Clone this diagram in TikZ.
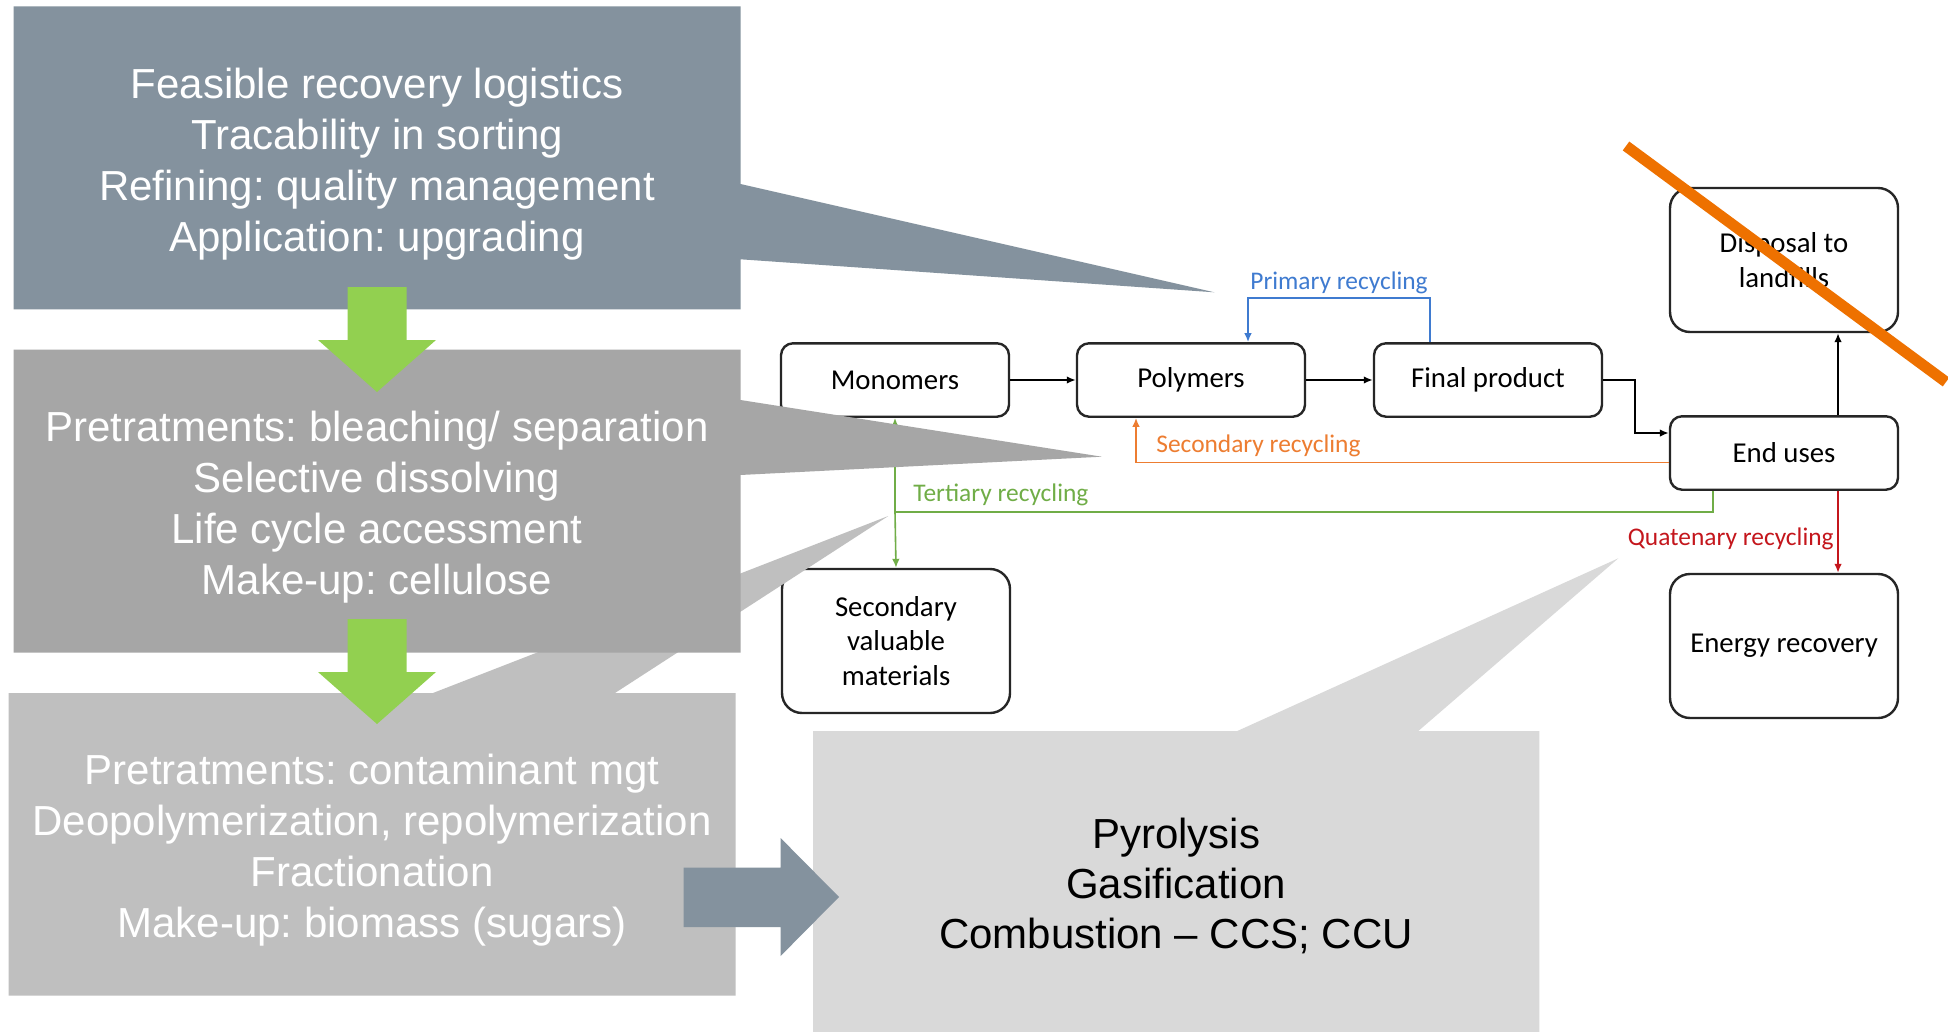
\documentclass[tikz,border=0pt]{standalone}
\usepackage{fontspec}
\setmainfont{Liberation Sans}
\newfontfamily\flowfont{Carlito}
\usetikzlibrary{arrows.meta}
\frenchspacing

\definecolor{slate}{HTML}{84929E}
\definecolor{midgray}{HTML}{A6A6A6}
\definecolor{lightgray}{HTML}{BFBFBF}
\definecolor{palegray}{HTML}{D9D9D9}
\definecolor{arrowgreen}{HTML}{92D050}
\definecolor{strikeorange}{HTML}{EE7100}
\definecolor{flowline}{HTML}{262626}
\definecolor{primblue}{HTML}{3F7BD0}
\definecolor{secorange}{HTML}{ED7D31}
\definecolor{tertgreen}{HTML}{70AD47}
\definecolor{quatred}{HTML}{C4161C}

\begin{document}
\begin{tikzpicture}[x=0.5pt,y=-0.5pt,
  flow/.style={draw=flowline, line width=1.2pt, rounded corners=6pt, fill=white,
    minimum width=114pt, minimum height=36.7pt, inner sep=0pt, align=center,
    text=black, font=\flowfont\fontsize{14.4pt}{17.4pt}\selectfont},
  tallflow/.style={flow, minimum height=72pt, rounded corners=10pt},
  link/.style={draw=black, line width=0.9pt, -{Latex[length=4.5pt,width=3.8pt]}},
  recyc/.style={line width=0.8pt, -{Latex[length=4.5pt,width=3.8pt]}},
  tag/.style={inner sep=0pt, font=\flowfont\fontsize{12.7pt}{15pt}\selectfont},
  boxtext/.style={align=center, inner sep=0pt, text=white,
    font=\fontsize{21pt}{25.5pt}\selectfont},
  strike/.style={draw=strikeorange, line width=5.5pt}
]
% canvas
\fill[white] (0,0) rectangle (1948,1032);
\useasboundingbox (0,0) rectangle (1948,1032);

% ---------- recycling flow chart ----------
\node[flow] (mono)   at (895,380)  {Monomers};
\node[flow] (poly)   at (1191,380) {Polymers};
\node[flow] (final)  at (1488,380) {Final product};
\node[flow] (end)    at (1784,453) {End uses};
\node[tallflow] (disp)   at (1784,260) {Disposal to\\landfills};
\node[tallflow] (energy) at (1784,646) {Energy recovery};
\node[tallflow] (secval) at (896,641)  {Secondary\\valuable\\materials};

\draw[link] (mono.east) -- (poly.west);
\draw[link] (poly.east) -- (final.west);
\draw[link] (final.east) -- (1635,380) |- ([yshift=10pt]end.west);
\draw[link] ([xshift=27pt]end.north) -- ([xshift=27pt]disp.south);

% primary recycling loop
\draw[recyc, draw=primblue] ([xshift=-29pt]final.north) -- ++(0,-44) -| ([xshift=28.5pt]poly.north);
\node[tag, text=primblue, anchor=base] (lprim) at (1339,289) {Primary recycling};

% secondary recycling
\draw[recyc, draw=secorange] ([yshift=-4.65pt]end.west) -| ([xshift=-27.5pt]poly.south);
\node[tag, text=secorange, anchor=base west] (lsec) at (1156,452) {Secondary recycling};

% tertiary recycling
\coordinate (tj) at (895,512);
\draw[line width=0.8pt, draw=tertgreen] ([xshift=-35.5pt]end.south) |- (tj);
\draw[recyc, draw=tertgreen] (tj) -- (mono.south);
\draw[recyc, draw=tertgreen] (tj) -- (secval.north);
\node[tag, text=tertgreen, anchor=base west] (lter) at (913,501) {Tertiary recycling};

% quaternary recycling
\draw[recyc, draw=quatred] ([xshift=27pt]end.south) -- ([xshift=27pt]energy.north);
\node[tag, text=quatred, anchor=base east] (lquat) at (1834,545) {Quatenary recycling};

% ---------- callout boxes ----------
\fill[palegray] (813,731) -- (1237.3,731) -- (1618.3,558.3) -- (1418.3,731)
  -- (1539.3,731) -- (1539.3,1032) -- (813,1032) -- cycle;
\fill[lightgray] (8.7,693) -- (433,693) -- (888.3,516) -- (615,693)
  -- (735.5,693) -- (735.5,995.5) -- (8.7,995.5) -- cycle;
\fill[midgray] (13.6,349.6) -- (740.5,349.6) -- (740.5,400) -- (1101.8,456.7)
  -- (740.5,475) -- (740.5,652.7) -- (13.6,652.7) -- cycle;
\fill[slate] (13.6,6.3) -- (740.5,6.3) -- (740.5,184) -- (1214.3,292.3)
  -- (740.5,259.3) -- (740.5,309.4) -- (13.6,309.4) -- cycle;

% block arrows between the boxes
\fill[arrowgreen] (347.6,287) -- (406.7,287) -- (406.7,340) -- (436,340)
  -- (377,392) -- (318,340) -- (347.6,340) -- cycle;
\fill[arrowgreen] (347.6,619) -- (406.7,619) -- (406.7,672) -- (436,672)
  -- (377,724) -- (318,672) -- (347.6,672) -- cycle;
\fill[slate] (683.6,867.7) -- (780.6,867.7) -- (780.6,838) -- (839,897)
  -- (780.6,956) -- (780.6,927) -- (683.6,927) -- cycle;

% box texts
\node[boxtext] (t1) at (377,164) {Feasible recovery logistics\\Tracability in sorting\\Refining: quality management\\Application: upgrading};
\node[boxtext] (t2) at (377,507) {Pretratments: bleaching/ separation\\Selective dissolving\\Life cycle accessment\\Make-up: cellulose};
\node[boxtext] (t3) at (372,850) {Pretratments: contaminant mgt\\Deopolymerization, repolymerization\\Fractionation\\Make-up: biomass (sugars)};
\node[boxtext, text=black, font=\fontsize{21pt}{25.2pt}\selectfont] (t4) at (1176,886) {Pyrolysis\\Gasification\\Combustion -- CCS; CCU};

% landfill crossed out
\draw[strike] (1626,146) -- (1946,382);
\end{tikzpicture}
\end{document}
